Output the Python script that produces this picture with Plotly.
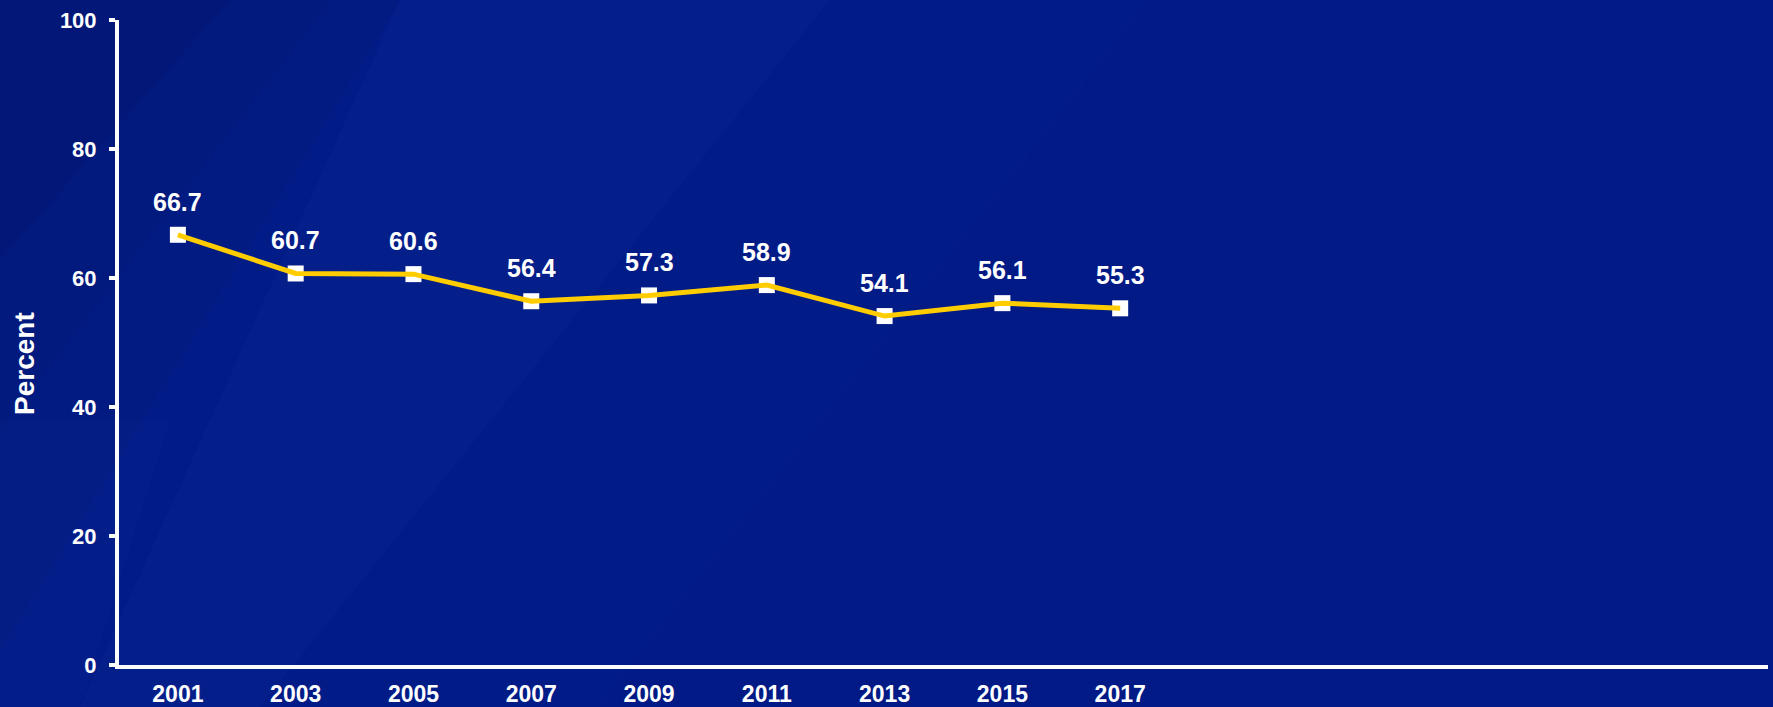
import plotly.graph_objects as go

years = ["2001", "2003", "2005", "2007", "2009", "2011", "2013", "2015", "2017"]
percent = [66.7, 60.7, 60.6, 56.4, 57.3, 58.9, 54.1, 56.1, 55.3]
y_ticks = [0, 20, 40, 60, 80, 100]

W, H = 1773, 707
ML, MR, MT, MB = 119, 5, 20, 42
PW, PH = W - ML - MR, H - MT - MB


def px(xp):
    return (xp - ML) / PW


def py(yp):
    return (H - MB - yp) / PH


def poly(pts):
    return "M " + " L ".join(f"{px(a):.4f},{py(b):.4f}" for a, b in pts) + " Z"


FONT = "Liberation Sans, Arial, sans-serif"

fig = go.Figure()

# subtle background streaks
bg_shapes = [
    (poly([(0, 0), (400, 0), (0, 650)]), "rgba(0,0,50,0.07)"),
    (poly([(0, 0), (330, 0), (0, 430)]), "rgba(0,0,50,0.07)"),
    (poly([(0, 0), (230, 0), (0, 260)]), "rgba(0,0,50,0.07)"),
    (poly([(0, 0), (400, 0), (80, 707), (0, 707)]), "rgba(60,90,200,0.04)"),
    (poly([(0, 420), (170, 420), (80, 707), (0, 707)]), "rgba(60,90,200,0.04)"),
    (poly([(400, 0), (830, 0), (260, 707), (80, 707)]), "rgba(70,100,210,0.08)"),
    (poly([(830, 0), (1150, 0), (600, 707), (260, 707)]), "rgba(70,100,210,0.03)"),
]
shapes = []
for path, col in bg_shapes:
    shapes.append(dict(type="path", path=path, xref="paper", yref="paper",
                       fillcolor=col, line=dict(width=0), layer="below"))

fig.add_trace(go.Scatter(
    x=years, y=percent, mode="markers",
    marker=dict(symbol="square", size=16, color="white"),
    hoverinfo="skip", showlegend=False,
))
fig.add_trace(go.Scatter(
    x=years, y=percent, mode="lines",
    line=dict(color="#FFCC00", width=5),
    showlegend=False,
))

annotations = []
for i, v in enumerate(percent):
    annotations.append(dict(
        x=i, y=v, xref="x", yref="y", text=f"{v:.1f}", showarrow=False,
        yanchor="middle", xanchor="center", yshift=33,
        font=dict(family=FONT, size=25, color="white", weight="bold"),
    ))
annotations.append(dict(
    x=px(24), y=py(364), xref="paper", yref="paper", text="Percent",
    textangle=-90, showarrow=False, xanchor="center", yanchor="middle",
    font=dict(family=FONT, size=28, color="white", weight="bold"),
))

fig.update_layout(
    width=W, height=H,
    margin=dict(l=ML, r=MR, t=MT, b=MB, pad=0, autoexpand=False),
    paper_bgcolor="#011a85",
    plot_bgcolor="rgba(0,0,0,0)",
    shapes=shapes,
    annotations=annotations,
    xaxis=dict(
        type="category", range=[-0.5, 13.5], automargin=False,
        showgrid=False, zeroline=False,
        showline=True, linecolor="white", linewidth=4,
        ticks="", ticklabelstandoff=5,
        tickfont=dict(family=FONT, size=23, color="white", weight="bold"),
    ),
    yaxis=dict(
        range=[0, 100], tickvals=y_ticks, automargin=False,
        showgrid=False, zeroline=False,
        showline=True, linecolor="white", linewidth=4,
        ticks="outside", ticklen=6, tickwidth=4, tickcolor="white",
        ticklabelstandoff=8,
        tickfont=dict(family=FONT, size=22, color="white", weight="bold"),
    ),
)

fig.write_html(
    "out.html",
    config={"displayModeBar": False},
    post_script="document.body.style.margin='0';document.body.style.overflow='hidden';",
)
